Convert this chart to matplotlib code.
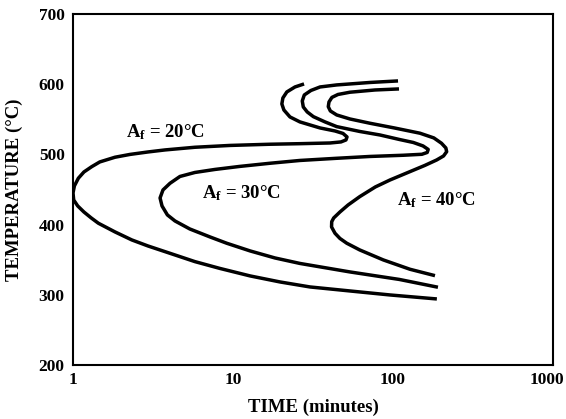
import matplotlib
matplotlib.use("Agg")
import matplotlib.pyplot as plt
from matplotlib.transforms import ScaledTranslation

plt.rcParams['font.family'] = ['Liberation Serif', 'DejaVu Serif']
plt.rcParams['font.weight'] = 'bold'
plt.rcParams['mathtext.fontset'] = 'custom'
plt.rcParams['mathtext.rm'] = 'Liberation Serif:bold'
plt.rcParams['mathtext.it'] = 'Liberation Serif:bold'
plt.rcParams['mathtext.bf'] = 'Liberation Serif:bold'

# C-curves: time (minutes), temperature (degC)
af20_time = [27.8, 24.4, 21.7, 20.5, 20.2, 20.8, 22.7, 26.2, 35, 43.4, 48.7, 51.6, 50.8, 47.3,
             40.4, 26.2, 17.0, 9.58, 5.78, 3.76, 2.94, 2.27, 1.83, 1.47, 1.31, 1.17, 1.08, 1.02,
             1.0, 1.01, 1.07, 1.17, 1.30, 1.44, 1.83, 2.33, 2.94, 3.76, 5.78, 8.28, 12.8, 19.7,
             30.3, 53.8, 95.8, 188]
af20_temp = [600.3, 596, 588.9, 580.3, 571.8, 563.2, 553.3, 546.2, 537.6, 533.3, 529.8, 524.8,
             520.5, 517.7, 516.2, 515.2, 514.4, 512.7, 510.1, 506.3, 503.4, 499.9, 495.9, 489.2,
             482.5, 474.9, 466, 455, 445, 435, 426.5, 417.9, 409.4, 401.9, 389.5, 378.1, 369.5,
             361.4, 347.2, 337.5, 326.8, 318.2, 311.1, 305.4, 299.7, 294]

af30_time = [107.5, 71.8, 44.5, 35, 30.7, 27.9, 27.1, 27.5, 29.1, 31.8, 37.6, 44.5, 62, 82.9,
             109.6, 134, 154, 166, 163.6, 151.6, 115.5, 71.8, 44.5, 26.2, 17, 11, 7.71, 5.78,
             4.66, 4.04, 3.65, 3.5, 3.6, 3.89, 4.34, 5.37, 7.19, 9.13, 12.8, 18.3, 26.2, 53.8,
             109.6, 191]
af30_temp = [604.6, 602.4, 598.9, 596, 591, 584.6, 576.1, 567.5, 560.4, 553.7, 546.2, 539.5,
             532.6, 527.6, 521.2, 516.9, 512, 507, 502.7, 500.1, 498.7, 497, 494.4, 491.3,
             487.3, 482.8, 478.5, 474.2, 468.5, 458.8, 449.3, 437.9, 426.5, 413.7, 405.1,
             393.7, 382.3, 373.4, 362.4, 352.4, 344.6, 332.5, 321.8, 310.7]

af40_time = [109, 77.2, 53.8, 45.3, 41.5, 39.8, 39.4, 40.6, 44.5, 53.8, 71.8, 102, 147.5, 180,
             201, 214, 216.5, 207, 187.5, 158, 127.7, 95.8, 77.6, 62, 52.4, 46.6, 42.6, 41.4,
             41.3, 43.4, 46.6, 51.4, 62, 87, 127.7, 183]
af40_temp = [593.2, 591.7, 588.5, 585.3, 581.1, 574.6, 567.9, 561.8, 556.1, 550.4, 544.3,
             537.6, 530.1, 523.4, 515.8, 509.1, 503.8, 497.7, 492, 484.2, 475.4, 463.5, 453.6,
             439.8, 427.9, 417.9, 409.4, 404.1, 396.6, 387.6, 380.2, 373.4, 363.8, 349.6,
             336.3, 327.2]

labels = [r'A$_{\mathrm{f}}$ = 20°C', r'A$_{\mathrm{f}}$ = 30°C', r'A$_{\mathrm{f}}$ = 40°C']
label_time = [3.8, 11.3, 186]
label_temp = [532, 445, 435]

x_ticks = [1, 10, 100, 1000]
y_ticks = [200, 300, 400, 500, 600, 700]

fig = plt.figure(figsize=(5.66, 4.19), dpi=100)
ax = fig.add_axes([0.129, 0.129, 0.848, 0.8377])

for t, T in [(af20_time, af20_temp), (af30_time, af30_temp), (af40_time, af40_temp)]:
    ax.plot(t, T, color='black', linewidth=2.5, solid_joinstyle='round', solid_capstyle='butt')

for s, t, T in zip(labels, label_time, label_temp):
    ax.text(t, T, s, fontsize=13.5, fontweight='bold', ha='center', va='center')

ax.set_xscale('log')
ax.set_xlim(1, 1000)
ax.set_ylim(200, 700)
ax.set_xticks(x_ticks)
ax.set_xticklabels([])
ax.set_yticks(y_ticks)
ax.minorticks_off()
ax.tick_params(length=0, labelsize=12.5, pad=6)

# x tick labels drawn by hand so that "1000" stays inside the picture
for v in x_ticks:
    tr = ax.get_xaxis_transform()
    if v == 1000:
        tr = tr + ScaledTranslation(-6 / 100, 0, fig.dpi_scale_trans)
    ax.text(v, -0.02, str(v), transform=tr, ha='center', va='top', fontsize=12.5,
            fontweight='bold', clip_on=False)

for sp in ax.spines.values():
    sp.set_linewidth(1.5)

ax.set_xlabel('TIME (minutes)', fontsize=13.5, fontweight='bold', labelpad=18)
ax.set_ylabel('TEMPERATURE (°C)', fontsize=13.5, fontweight='bold', labelpad=11)

fig.savefig('out.png', dpi=100)
